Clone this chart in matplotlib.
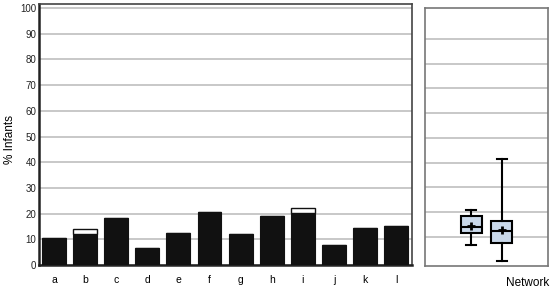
import numpy as np
import matplotlib.pyplot as plt

plt.rcParams['font.family'] = ['Liberation Sans', 'DejaVu Sans']

# data
sites = ['a', 'b', 'c', 'd', 'e', 'f', 'g', 'h', 'i', 'j', 'k', 'l']
pct_base = [10.6, 12.0, 18.2, 6.5, 12.3, 20.6, 12.0, 19.1, 20.1, 7.7, 14.3, 15.1]
pct_extra = [0, 2.1, 0, 0, 0, 0, 0, 0, 2.2, 0, 0, 0]

# network box summaries
box_stats = [
    dict(whislo=6.7, q1=11.6, med=13.9, mean=14.4, q3=18.5, whishi=20.7, fliers=[]),
    dict(whislo=0.2, q1=7.6, med=12.2, mean=12.6, q3=16.3, whishi=41.5, fliers=[]),
]

fig = plt.figure(figsize=(5.53, 2.91), dpi=100)
ax = fig.add_axes([39/553, 26/291, 373/553, 261/291])
ax2 = fig.add_axes([425/553, 25/291, 123/553, 258/291])

grid_c = '#c4c4c4'

# main bars
x = np.arange(len(sites))
ax.bar(x, pct_base, width=0.77, color='#111111', edgecolor='#111111', lw=0.8, zorder=3)
ax.bar(x, pct_extra, bottom=pct_base, width=0.77, color='white',
       edgecolor='#111111', lw=1.0, zorder=3)
ax.set_xlim(-0.48, 11.51)
ax.set_ylim(0, 101.6)
ax.set_xticks(x)
ax.set_xticklabels(sites, fontsize=7.5)
ax.set_yticks(np.arange(0, 101, 10))
ax.tick_params(axis='y', length=0, pad=2, labelsize=7, colors='#222222')
ax.tick_params(axis='x', length=0, pad=7)
ax.yaxis.grid(True, color=grid_c, lw=1.3, zorder=0)
ax.set_ylabel('% Infants', fontsize=8.5)
ax.yaxis.set_label_coords(-0.062, 0.48)
for s in ['left', 'bottom']:
    ax.spines[s].set_linewidth(1.8)
    ax.spines[s].set_color('#222222')
for s in ['top', 'right']:
    ax.spines[s].set_linewidth(1.2)
    ax.spines[s].set_color('#444444')

# network boxes
ax2.bxp(box_stats, positions=[1.5, 2.5], widths=0.68, showmeans=True,
        showfliers=False, patch_artist=True,
        boxprops=dict(facecolor='#c9d8ea', edgecolor='black', lw=1.5),
        medianprops=dict(color='black', lw=1.5),
        whiskerprops=dict(color='black', lw=1.5),
        capprops=dict(color='black', lw=1.5),
        meanprops=dict(marker='+', markeredgecolor='black', markersize=6,
                       markeredgewidth=2))
ax2.set_xlim(0, 4)
ax2.set_ylim(-1.8, 102.5)
ax2.set_yticks(np.arange(10, 91, 10))
ax2.set_xticks([])
ax2.tick_params(axis='y', length=0, labelleft=False)
ax2.yaxis.grid(True, color=grid_c, lw=1.3, zorder=0)
ax2.set_axisbelow(True)
for s in ax2.spines.values():
    s.set_color('#777777')
    s.set_linewidth(1.2)

fig.text(528/553, 1 - 283/291, 'Network', ha='center', va='center', fontsize=8.5)

fig.savefig('out.png', dpi=100)
